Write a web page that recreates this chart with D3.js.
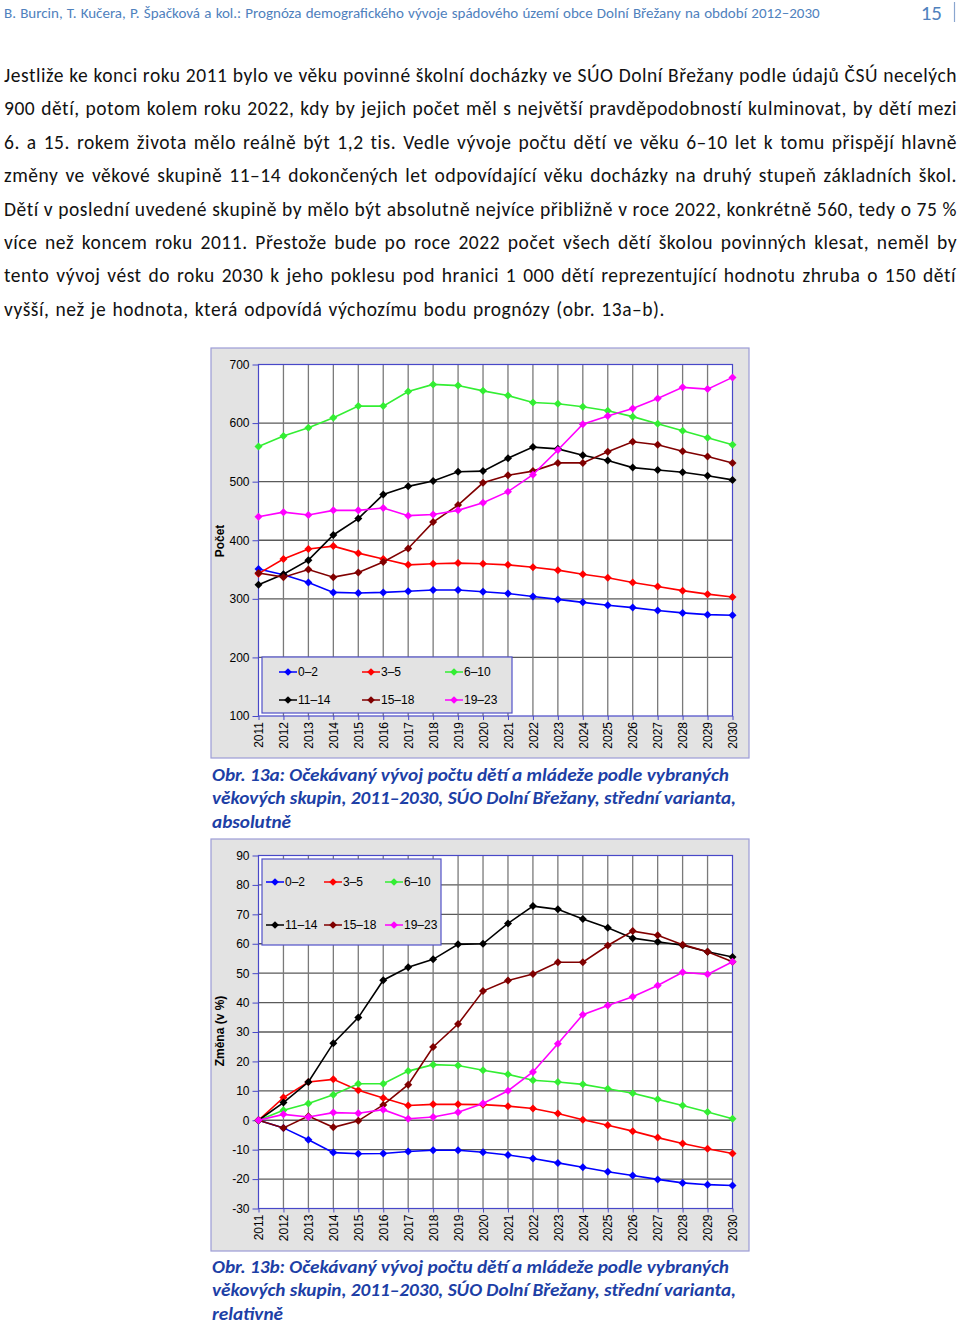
<!DOCTYPE html>
<html>
<head>
<meta charset="utf-8">
<script src="https://d3js.org/d3.v7.min.js"></script>
<style>
  body { margin: 0; background: #fff; }
</style>
</head>
<body>
<div id="page"></div>
<script>
// roky na ose x
var years = ["2011","2012","2013","2014","2015","2016","2017","2018","2019","2020",
             "2021","2022","2023","2024","2025","2026","2027","2028","2029","2030"];
var groups = ["0–2", "3–5", "6–10", "11–14", "15–18", "19–23"];
var colors = ["#0000ff", "#ff0000", "#33ee33", "#000000", "#800000", "#ff00ff"];

// obr. 13a - absolutne
var abs02   = [351,341,328,311,310,311,313,315,315,312,309,304,299,294,289,285,280,276,273,272];
var abs35   = [343,368,385,390,378,368,358,360,361,360,358,354,349,342,336,328,321,314,308,303];
var abs610  = [560,578,592,609,629,629,654,666,664,655,647,635,633,628,621,611,599,587,575,563];
var abs1114 = [324,342,366,409,437,478,492,501,517,518,540,559,556,545,536,524,520,516,510,503];
var abs1518 = [344,337,350,337,345,363,386,431,460,498,511,518,532,532,551,568,563,552,543,532];
var abs1923 = [440,448,443,451,451,455,442,444,451,464,483,512,554,598,612,625,642,661,658,678];

// obr. 13b - relativne (v %)
var rel02   = [0,-2.6,-6.6,-11,-11.4,-11.3,-10.6,-10.2,-10.2,-10.9,-11.8,-13,-14.5,-16,-17.5,-18.8,-20.1,-21.3,-21.9,-22.2];
var rel35   = [0,7.7,13,13.9,10.2,7.6,5,5.4,5.4,5.3,4.8,4,2.3,0.2,-1.7,-3.7,-5.9,-7.9,-9.7,-11.3];
var rel610  = [0,3.4,5.7,8.7,12.4,12.4,16.7,18.9,18.6,17,15.6,13.6,13,12.2,10.7,9.2,7.1,5,2.8,0.5];
var rel1114 = [0,6,13,26.2,34.9,47.6,52,54.7,59.8,60,66.9,72.8,71.7,68.4,65.4,61.9,60.7,59.5,57.3,55.5];
var rel1518 = [0,-2.6,1.4,-2.4,-0.2,5.2,12.1,24.9,32.7,43.9,47.5,49.7,53.7,53.7,59.4,64.3,62.9,59.7,57.3,53.9];
var rel1923 = [0,2,1.1,2.6,2.4,3.6,0.5,1.1,2.7,5.7,10,16.4,26,35.9,39,42,45.8,50.3,49.6,53.9];

var ticks1 = [100,200,300,400,500,600,700];
var ticks2 = [-30,-20,-10,0,10,20,30,40,50,60,70,80,90];

var headerText = "B. Burcin, T. Kučera, P. Špačková a kol.: Prognóza demografického vývoje spádového území obce Dolní Břežany na období 2012–2030";
var paraLines = [
  "Jestliže ke konci roku 2011 bylo ve věku povinné školní docházky ve SÚO Dolní Břežany podle údajů ČSÚ necelých",
  "900 dětí, potom kolem roku 2022, kdy by jejich počet měl s největší pravděpodobností kulminovat, by dětí mezi",
  "6. a 15. rokem života mělo reálně být 1,2 tis. Vedle vývoje počtu dětí ve věku 6–10 let k tomu přispějí hlavně",
  "změny ve věkové skupině 11–14 dokončených let odpovídající věku docházky na druhý stupeň základních škol.",
  "Dětí v poslední uvedené skupině by mělo být absolutně nejvíce přibližně v roce 2022, konkrétně 560, tedy o 75 %",
  "více než koncem roku 2011. Přestože bude po roce 2022 počet všech dětí školou povinných klesat, neměl by",
  "tento vývoj vést do roku 2030 k jeho poklesu pod hranici 1 000 dětí reprezentující hodnotu zhruba o 150 dětí",
  "vyšší, než je hodnota, která odpovídá výchozímu bodu prognózy (obr. 13a–b)."
];
var caption1 = ["Obr. 13a: Očekávaný vývoj počtu dětí a mládeže podle vybraných",
                "věkových skupin, 2011–2030, SÚO Dolní Břežany, střední varianta,",
                "absolutně"];
var caption2 = ["Obr. 13b: Očekávaný vývoj počtu dětí a mládeže podle vybraných",
                "věkových skupin, 2011–2030, SÚO Dolní Břežany, střední varianta,",
                "relativně"];

var W = 960, H = 1324;
var bodyFont = "Carlito, Lato, 'Noto Sans', sans-serif";
var chartFont = "Arial, 'Liberation Sans', sans-serif";

var svg = d3.select("#page").append("svg")
  .attr("width", W).attr("height", H)
  .style("display", "block");
svg.append("rect").attr("width", W).attr("height", H).attr("fill", "#fff");

// zarovnani do bloku pres mezery mezi slovy
function justify(t, target) {
  var w = t.node().getBBox().width;
  var spaces = (t.text().match(/ /g) || []).length;
  if (spaces > 0 && w < target) {
    t.style("word-spacing", ((target - w) / spaces) + "px");
  }
}

// hlavicka
var hdr = svg.append("text").attr("x", 4).attr("y", 18)
  .style("font-family", bodyFont).style("font-size", "15px")
  .attr("fill", "#4f81bd").text(headerText);
justify(hdr, 816);
svg.append("text").attr("x", 942).attr("y", 20).attr("text-anchor", "end")
  .style("font-family", bodyFont).style("font-size", "21px")
  .attr("fill", "#4f81bd").text("15");
svg.append("line").attr("x1", 954.5).attr("x2", 954.5).attr("y1", 2).attr("y2", 22)
  .attr("stroke", "#8aa6cf").attr("stroke-width", 1.2);

// odstavec: spolecne prostrkani pismen tak, aby se vesel nejdelsi radek
var paraSize = 19.5;
var paraTexts = paraLines.map(function (s, i) {
  return svg.append("text").attr("x", 4).attr("y", 82 + i * 33.4)
    .style("font-family", bodyFont).style("font-size", paraSize + "px")
    .attr("fill", "#111").text(s);
});
var targets = paraLines.map(function (s, i) { return i < paraLines.length - 1 ? 951 : 661; });
var ls = d3.min(paraTexts, function (t, i) {
  return (targets[i] - t.node().getBBox().width) / paraLines[i].length;
});
paraTexts.forEach(function (t, i) {
  t.style("letter-spacing", ls + "px");
  justify(t, i < paraLines.length - 1 ? 953 : 661);
});

var x = d3.scalePoint().domain(years).range([258.5, 732.5]);

function drawChart(cfg) {
  var g = svg.append("g");
  var y = d3.scaleLinear().domain(cfg.domain).range([cfg.bottom, cfg.top]);
  var fr = cfg.frame;
  g.append("rect").attr("x", fr[0]).attr("y", fr[1]).attr("width", fr[2]).attr("height", fr[3])
    .attr("fill", "#e3e3e3").attr("stroke", "#9c9cd6").attr("stroke-width", 1.2);
  var x0 = x.range()[0], x1 = x.range()[1];
  g.append("rect").attr("x", x0).attr("y", cfg.top).attr("width", x1 - x0).attr("height", cfg.bottom - cfg.top)
    .attr("fill", "#fff");

  // mrizka
  g.selectAll(".hg").data(cfg.ticks.slice(1, -1)).enter().append("line")
    .attr("x1", x0).attr("x2", x1)
    .attr("y1", function (d) { return y(d); }).attr("y2", function (d) { return y(d); })
    .attr("stroke", "#5a5a5a").attr("stroke-width", 1.3);
  g.selectAll(".vg").data(years.slice(1, -1)).enter().append("line")
    .attr("x1", function (d) { return x(d); }).attr("x2", function (d) { return x(d); })
    .attr("y1", cfg.top).attr("y2", cfg.bottom)
    .attr("stroke", "#7a7a7a").attr("stroke-width", 1.3);
  g.append("rect").attr("x", x0).attr("y", cfg.top).attr("width", x1 - x0).attr("height", cfg.bottom - cfg.top)
    .attr("fill", "none").attr("stroke", "#4848c8").attr("stroke-width", 1.2);

  // osa y (spojovnik misto typograficke minus)
  var ya = d3.axisLeft(y).tickValues(cfg.ticks).tickSize(6).tickPadding(3)
    .tickFormat(function (d) { return String(d); });
  var yg = g.append("g").attr("transform", "translate(" + x0 + ",0)").call(ya);
  yg.select(".domain").remove();
  yg.selectAll("line").attr("stroke", "#4848c8");
  yg.selectAll("text").style("font-family", chartFont).style("font-size", "12px").attr("fill", "#000");

  // osa x
  var xa = d3.axisBottom(x).tickSize(4).tickPadding(3);
  var xg = g.append("g").attr("transform", "translate(0," + cfg.bottom + ")").call(xa);
  xg.select(".domain").remove();
  xg.selectAll("line").attr("stroke", "#4848c8");
  xg.selectAll("text")
    .style("font-family", chartFont).style("font-size", "12px").attr("fill", "#000")
    .attr("transform", "rotate(-90)")
    .attr("text-anchor", "end").attr("x", -6).attr("y", 0).attr("dy", "0.35em");

  // popisek osy y
  g.append("text").attr("transform", "translate(224," + cfg.labelY + ") rotate(-90)")
    .attr("text-anchor", "middle")
    .style("font-family", chartFont).style("font-size", "12px").style("font-weight", "bold")
    .text(cfg.label);

  // legenda
  var lg = cfg.legend;
  g.append("rect").attr("x", lg.box[0]).attr("y", lg.box[1]).attr("width", lg.box[2]).attr("height", lg.box[3])
    .attr("fill", "#e3e3e3").attr("stroke", "#5050c8").attr("stroke-width", 1.2);
  groups.forEach(function (name, i) {
    var cx = lg.cols[i % 3], cy = lg.rows[Math.floor(i / 3)];
    g.append("line").attr("x1", cx).attr("x2", cx + 18).attr("y1", cy).attr("y2", cy)
      .attr("stroke", colors[i]).attr("stroke-width", 1.5);
    g.append("path").attr("d", d3.symbol(d3.symbolSquare, 30)())
      .attr("transform", "translate(" + (cx + 9) + "," + cy + ") rotate(45)")
      .attr("fill", colors[i]);
    g.append("text").attr("x", cx + 19).attr("y", cy).attr("dy", "0.36em")
      .style("font-family", chartFont).style("font-size", "12px").text(name);
  });

  // rady
  var line = d3.line().x(function (d, i) { return x(years[i]); }).y(function (d) { return y(d); });
  cfg.series.forEach(function (vals, si) {
    g.append("path").datum(vals).attr("d", line)
      .attr("fill", "none").attr("stroke", colors[si]).attr("stroke-width", 1.6);
    g.selectAll(".m" + si).data(vals).enter().append("path")
      .attr("d", d3.symbol(d3.symbolSquare, 32)())
      .attr("transform", function (d, i) { return "translate(" + x(years[i]) + "," + y(d) + ") rotate(45)"; })
      .attr("fill", colors[si]);
  });

  // popisek obrazku
  cfg.caption.forEach(function (s, i) {
    svg.append("text").attr("x", 212).attr("y", cfg.capY + i * 23.5)
      .style("font-family", bodyFont).style("font-size", "18.5px")
      .style("font-weight", "bold").style("font-style", "italic")
      .attr("textLength", cfg.capW[i]).attr("lengthAdjust", "spacingAndGlyphs")
      .attr("fill", "#1d3fa6").text(s);
  });
}

drawChart({
  domain: [100, 700], top: 364.5, bottom: 716, ticks: ticks1,
  frame: [211, 348, 538, 410],
  series: [abs02, abs35, abs610, abs1114, abs1518, abs1923],
  label: "Počet", labelY: 541,
  legend: { box: [262, 657, 250, 56], cols: [279, 362, 445], rows: [672, 700] },
  caption: caption1, capY: 780.5, capW: [517, 524, 79]
});

drawChart({
  domain: [-30, 90], top: 855.5, bottom: 1208.5, ticks: ticks2,
  frame: [211, 839, 538, 412],
  series: [rel02, rel35, rel610, rel1114, rel1518, rel1923],
  label: "Změna (v %)", labelY: 1031,
  legend: { box: [262, 859, 179, 86], cols: [266, 324, 385], rows: [882, 925] },
  caption: caption2, capY: 1272.5, capW: [517, 524, 71]
});
</script>
</body>
</html>
